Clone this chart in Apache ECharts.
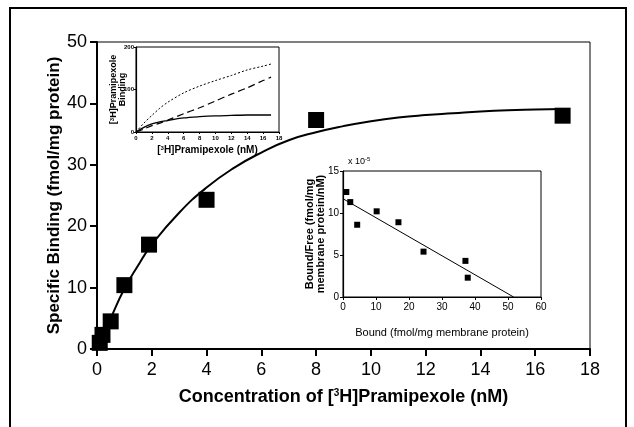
<!DOCTYPE html>
<html>
<head>
<meta charset="utf-8">
<script src="https://cdn.jsdelivr.net/npm/echarts@6/dist/echarts.min.js"></script>
<style>
  html, body { margin: 0; padding: 0; background: #fff; }
  #chart { width: 634px; height: 427px; }
</style>
</head>
<body>
<div id="chart"></div>
<script>
// main saturation data
const concPoints = [[0.1, 1.0], [0.2, 2.3], [0.5, 4.5], [1.0, 10.4], [1.9, 17.0], [4.0, 24.3], [8.0, 37.3], [17.0, 38.0]]
const fitConc = [0, 0.5, 1, 1.5, 2, 3, 4, 5, 6, 7, 8, 9, 10, 11, 12, 13, 14, 15, 16, 17]
const fitBound = [0, 5.0, 9.8, 13.6, 17.0, 22.2, 26.3, 29.5, 32.0, 34.0, 35.3, 36.3, 37.1, 37.7, 38.1, 38.4, 38.7, 38.9, 39.0, 39.1]

// inset 1: total / nonspecific / specific
const insetConc = [0, 1, 2, 3, 4, 6, 8, 10, 12, 14, 16, 17]
const totalBinding = [0, 21, 39, 56, 70, 92, 108, 121, 133, 146, 155, 160]
const nonspecBinding = [0, 7, 15, 21, 28, 43, 57, 73, 89, 104, 121, 129]
const specificBinding = [0, 11, 19, 24, 27, 33, 36, 38, 39, 40, 40, 40]

// inset 2: scatchard
const scatchardPoints = [[1.0, 12.5], [2.2, 11.3], [4.3, 8.6], [10.2, 10.2], [16.8, 8.9], [24.4, 5.4], [37.1, 4.3], [37.8, 2.3]]
const scatchardLine = [[0, 11.7], [51.7, 0]]

const sans = '"Liberation Sans", Arial, sans-serif'
const sup = { sup: { fontSize: 10, verticalAlign: 'top', padding: [0, 0, 8, 0], fontWeight: 'bold', fontFamily: sans } }

function pairs(xs, ys) {
  return xs.map((x, i) => [x, ys[i]])
}

const chart = echarts.init(document.getElementById('chart'))

const option = {
  animation: false,
  backgroundColor: '#fff',
  graphic: [
    {
      type: 'rect',
      shape: { x: 10, y: 8, width: 616, height: 440 },
      style: { fill: 'none', stroke: '#000', lineWidth: 2 },
      z: 100
    },
    {
      type: 'text',
      left: 348,
      top: 156,
      style: {
        text: 'x 10{s|-5}',
        rich: { s: { fontSize: 6, verticalAlign: 'top', padding: [0, 0, 5, 0] } },
        fontSize: 9,
        fontFamily: sans,
        fill: '#000'
      }
    }
  ],
  grid: [
    { left: 97, top: 42, width: 493, height: 307, show: true, borderColor: '#000', borderWidth: 1 },
    { left: 136, top: 47, width: 143, height: 85, show: true, borderColor: '#000', borderWidth: 1, backgroundColor: '#fff' },
    { left: 343, top: 171, width: 198, height: 126, show: true, borderColor: '#000', borderWidth: 1, backgroundColor: '#fff' }
  ],
  xAxis: [
    {
      gridIndex: 0, type: 'value', min: 0, max: 18, interval: 2,
      splitLine: { show: false },
      axisLine: { lineStyle: { color: '#000', width: 2 } },
      axisTick: { length: 7, lineStyle: { color: '#000', width: 2 } },
      axisLabel: { color: '#000', fontSize: 18, fontFamily: sans, margin: 12 },
      name: 'Concentration of [{sup|3}H]Pramipexole (nM)',
      nameLocation: 'middle', nameGap: 39, nameMoveOverlap: false,
      nameTextStyle: { color: '#000', fontSize: 18, fontWeight: 'bold', fontFamily: sans, rich: sup }
    },
    {
      gridIndex: 1, type: 'value', min: 0, max: 18, interval: 2,
      splitLine: { show: false },
      axisLine: { lineStyle: { color: '#000', width: 1.2 } },
      axisTick: { length: 2, lineStyle: { color: '#000' } },
      axisLabel: { color: '#000', fontSize: 6, fontWeight: 'bold', fontFamily: sans, margin: 3 },
      name: '[{s|3}H]Pramipexole (nM)',
      nameLocation: 'middle', nameGap: 13, nameMoveOverlap: false,
      nameTextStyle: {
        color: '#000', fontSize: 10, fontWeight: 'bold', fontFamily: sans,
        rich: { s: { fontSize: 6, verticalAlign: 'top', padding: [0, 0, 5, 0], fontWeight: 'bold' } }
      }
    },
    {
      gridIndex: 2, type: 'value', min: 0, max: 60, interval: 10,
      splitLine: { show: false },
      axisLine: { lineStyle: { color: '#000', width: 1.2 } },
      axisTick: { length: 3, lineStyle: { color: '#000' } },
      axisLabel: { color: '#000', fontSize: 10, fontFamily: sans, margin: 5 },
      name: 'Bound (fmol/mg membrane protein)',
      nameLocation: 'middle', nameGap: 30, nameMoveOverlap: false,
      nameTextStyle: { color: '#000', fontSize: 11, fontFamily: sans }
    }
  ],
  yAxis: [
    {
      gridIndex: 0, type: 'value', min: 0, max: 50, interval: 10,
      splitLine: { show: false },
      axisLine: { lineStyle: { color: '#000', width: 2 } },
      axisTick: { length: 7, lineStyle: { color: '#000', width: 2 } },
      axisLabel: { color: '#000', fontSize: 18, fontFamily: sans, margin: 10 },
      name: 'Specific Binding (fmol/mg protein)',
      nameLocation: 'middle', nameGap: 34, nameMoveOverlap: false,
      nameTextStyle: { color: '#000', fontSize: 17, fontWeight: 'bold', fontFamily: sans }
    },
    {
      gridIndex: 1, type: 'value', min: 0, max: 200, interval: 100,
      splitLine: { show: false },
      axisLine: { lineStyle: { color: '#000', width: 1.2 } },
      axisTick: { length: 2, lineStyle: { color: '#000' } },
      axisLabel: { color: '#000', fontSize: 6, fontWeight: 'bold', fontFamily: sans, margin: 2 },
      name: '[{s|3}H]Pramipexole\nBinding',
      nameLocation: 'middle', nameGap: 9, nameMoveOverlap: false,
      nameTextStyle: {
        color: '#000', fontSize: 9, fontWeight: 'bold', fontFamily: sans, lineHeight: 9,
        rich: { s: { fontSize: 6, verticalAlign: 'top', fontWeight: 'bold' } }
      }
    },
    {
      gridIndex: 2, type: 'value', min: 0, max: 15, interval: 5,
      splitLine: { show: false },
      axisLine: { lineStyle: { color: '#000', width: 1.2 } },
      axisTick: { length: 3, lineStyle: { color: '#000' } },
      axisLabel: { color: '#000', fontSize: 10, fontFamily: sans, margin: 4 },
      name: 'Bound/Free (fmol/mg\nmembrane protein/nM)',
      nameLocation: 'middle', nameGap: 17, nameMoveOverlap: false,
      nameTextStyle: { color: '#000', fontSize: 11, fontWeight: 'bold', fontFamily: sans, lineHeight: 11 }
    }
  ],
  series: [
    {
      type: 'line', xAxisIndex: 0, yAxisIndex: 0,
      data: pairs(fitConc, fitBound), smooth: true, showSymbol: false,
      lineStyle: { color: '#000', width: 2 }, z: 2
    },
    {
      type: 'scatter', xAxisIndex: 0, yAxisIndex: 0,
      data: concPoints, symbol: 'rect', symbolSize: 16,
      itemStyle: { color: '#000', opacity: 1 }, z: 3
    },
    {
      type: 'line', xAxisIndex: 1, yAxisIndex: 1,
      data: pairs(insetConc, totalBinding), smooth: 0.3, showSymbol: false,
      lineStyle: { color: '#000', width: 1, type: [2, 2] }
    },
    {
      type: 'line', xAxisIndex: 1, yAxisIndex: 1,
      data: pairs(insetConc, nonspecBinding), smooth: 0.3, showSymbol: false,
      lineStyle: { color: '#000', width: 1.2, type: [7, 4] }
    },
    {
      type: 'line', xAxisIndex: 1, yAxisIndex: 1,
      data: pairs(insetConc, specificBinding), smooth: 0.3, showSymbol: false,
      lineStyle: { color: '#000', width: 1.3 }
    },
    {
      type: 'line', xAxisIndex: 2, yAxisIndex: 2,
      data: scatchardLine, showSymbol: false,
      lineStyle: { color: '#000', width: 1 }
    },
    {
      type: 'scatter', xAxisIndex: 2, yAxisIndex: 2,
      data: scatchardPoints, symbol: 'rect', symbolSize: 6,
      itemStyle: { color: '#000', opacity: 1 }
    }
  ]
}

chart.setOption(option)
</script>
</body>
</html>
